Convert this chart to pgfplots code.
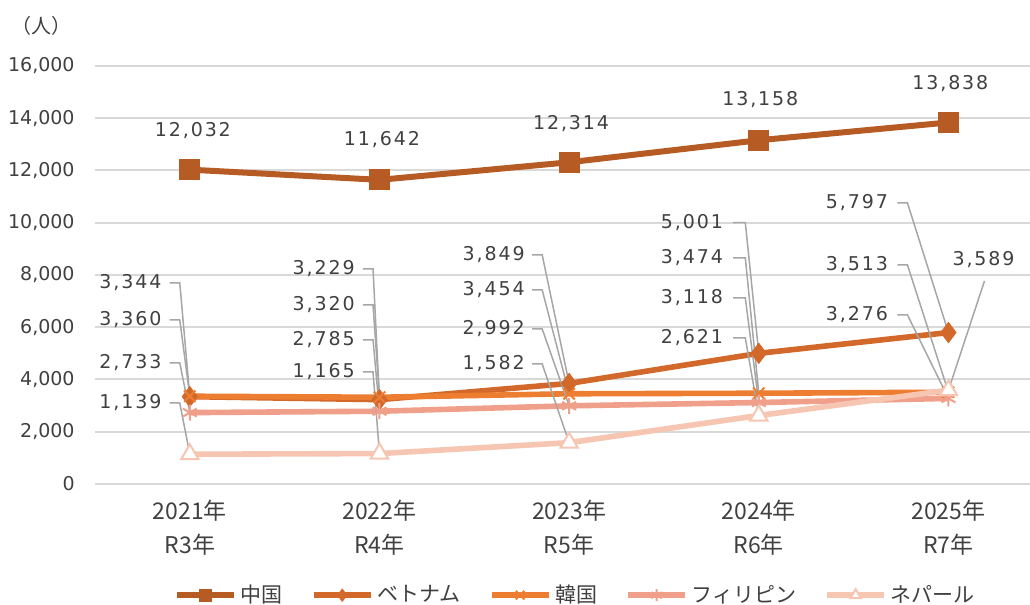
\documentclass[border=0pt]{standalone}
\usepackage{fontspec}
\setmainfont{Noto Sans CJK JP}
\newfontfamily\numfont{DejaVu Sans}
\newfontfamily\lblfont[LetterSpace=10]{DejaVu Sans}
\usepackage{pgfplots}
\pgfplotsset{compat=1.18}
\definecolor{cCN}{HTML}{B65B23}
\definecolor{cVN}{HTML}{D2692B}
\definecolor{cKR}{HTML}{ED7D31}
\definecolor{cPH}{HTML}{F0A08A}
\definecolor{cNP}{HTML}{F6C6B2}
\definecolor{gridc}{HTML}{D9D9D9}
\definecolor{txt}{HTML}{404040}
\definecolor{leadc}{HTML}{A6A6A6}
\begin{document}
\begin{tikzpicture}
\path[use as bounding box] (0,0) rectangle (515pt,302.5pt);
\begin{axis}[
  at={(47.5pt,60.5pt)}, anchor=south west,
  scale only axis, width=467.5pt, height=209pt,
  xmin=-0.5, xmax=4.43, ymin=0, ymax=16000,
  ytick={0,2000,...,16000},
  scaled y ticks=false,
  xtick={0,1,2,3,4},
  xticklabels={{2021年\\R3年},{2022年\\R4年},{2023年\\R5年},{2024年\\R6年},{2025年\\R7年}},
  axis line style={draw=none},
  major tick length=0pt,
  ymajorgrids, grid style={gridc, line width=1pt},
  /pgf/number format/assume math mode=true,
  /pgf/number format/1000 sep={,},
  yticklabel style={font=\numfont\fontsize{9.5}{11}\selectfont, text=txt, anchor=east, inner sep=0pt, xshift=-10pt},
  xticklabel style={font=\fontsize{11.5}{17}\selectfont, text=txt, align=center, anchor=north, inner sep=0pt, yshift=-8pt},
  clip=false,
  legend columns=5,
  legend style={at={(0.515,-0.266)}, anchor=center, draw=none, fill=none,
    font=\fontsize{10.5}{12}\selectfont, text=txt,
    /tikz/every even column/.append style={column sep=12pt}},
  legend cell align=left,
  legend image code/.code={\draw[mark repeat=2,mark phase=2] plot coordinates {(0cm,0cm) (0.5cm,0cm) (1cm,0cm)};},
]
\addplot[cCN, line width=3pt, mark=square*, mark size=5pt, mark options={fill=cCN, draw=cCN, line width=0.5pt}, legend image post style={mark size=3pt}]
  coordinates {(0,12032) (1,11642) (2,12314) (3,13158) (4,13838)};
\addlegendentry{中国}
\addplot[cVN, line width=2.8pt, mark=diamond*, mark size=5pt, mark options={fill=cVN, draw=cVN, line width=0.5pt}, legend image post style={mark size=3pt}]
  coordinates {(0,3344) (1,3229) (2,3849) (3,5001) (4,5797)};
\addlegendentry{ベトナム}
\addplot[cKR, line width=2.8pt, mark=x, mark size=4pt, mark options={draw=cKR, line width=1pt}, legend image post style={mark size=3pt}]
  coordinates {(0,3360) (1,3320) (2,3454) (3,3474) (4,3513)};
\addlegendentry{韓国}
\addplot[cPH, line width=2.8pt, mark=asterisk, mark size=4pt, mark options={draw=cPH, line width=1pt}, legend image post style={mark size=3pt}]
  coordinates {(0,2733) (1,2785) (2,2992) (3,3118) (4,3276)};
\addlegendentry{フィリピン}
\addplot[cNP, line width=2.8pt, mark=triangle*, mark size=5pt, mark options={fill=white, draw=cNP, line width=1pt}, legend image post style={mark size=3pt}]
  coordinates {(0,1139) (1,1165) (2,1582) (3,2621) (4,3589)};
\addlegendentry{ネパール}

% leader lines
\addplot[leadc, line width=0.75pt, forget plot] coordinates {(-0.106,7694) (-0.053,7694) (0,3344)};
\addplot[leadc, line width=0.75pt, forget plot] coordinates {(-0.106,6278) (-0.053,6278) (0,3360)};
\addplot[leadc, line width=0.75pt, forget plot] coordinates {(-0.106,4632) (-0.053,4632) (0,2733)};
\addplot[leadc, line width=0.75pt, forget plot] coordinates {(-0.106,3101) (-0.053,3101) (0,1139)};
\addplot[leadc, line width=0.75pt, forget plot] coordinates {(0.913,8230) (0.966,8230) (1,3229)};
\addplot[leadc, line width=0.75pt, forget plot] coordinates {(0.913,6852) (0.966,6852) (1,3320)};
\addplot[leadc, line width=0.75pt, forget plot] coordinates {(0.913,5512) (0.966,5512) (1,2785)};
\addplot[leadc, line width=0.75pt, forget plot] coordinates {(0.913,4287) (0.966,4287) (1,1165)};
\addplot[leadc, line width=0.75pt, forget plot] coordinates {(1.805,8766) (1.858,8766) (2,3849)};
\addplot[leadc, line width=0.75pt, forget plot] coordinates {(1.805,7426) (1.858,7426) (2,3454)};
\addplot[leadc, line width=0.75pt, forget plot] coordinates {(1.805,5933) (1.858,5933) (2,2992)};
\addplot[leadc, line width=0.75pt, forget plot] coordinates {(1.805,4594) (1.858,4594) (2,1582)};
\addplot[leadc, line width=0.75pt, forget plot] coordinates {(2.865,10000) (2.929,10000) (3,5001)};
\addplot[leadc, line width=0.75pt, forget plot] coordinates {(2.865,8651) (2.929,8651) (3,3474)};
\addplot[leadc, line width=0.75pt, forget plot] coordinates {(2.865,7120) (2.929,7120) (3,3118)};
\addplot[leadc, line width=0.75pt, forget plot] coordinates {(2.865,5589) (2.929,5589) (3,2621)};
\addplot[leadc, line width=0.75pt, forget plot] coordinates {(3.731,10756) (3.784,10756) (4,5797)};
\addplot[leadc, line width=0.75pt, forget plot] coordinates {(3.731,8383) (3.784,8383) (4,3513)};
\addplot[leadc, line width=0.75pt, forget plot] coordinates {(3.731,6469) (3.784,6469) (4,3276)};
\addplot[leadc, line width=0.75pt, forget plot] coordinates {(4.19,7771) (4,3589)};

% data labels
\tikzset{dl/.style={anchor=east, inner sep=0pt, text=txt, font=\lblfont\fontsize{9.5}{11}\selectfont}}
\node[dl] at (axis cs:-0.148,7694) {3,344};
\node[dl] at (axis cs:-0.148,6278) {3,360};
\node[dl] at (axis cs:-0.148,4632) {2,733};
\node[dl] at (axis cs:-0.148,3101) {1,139};
\node[dl] at (axis cs:0.871,8230) {3,229};
\node[dl] at (axis cs:0.871,6852) {3,320};
\node[dl] at (axis cs:0.871,5512) {2,785};
\node[dl] at (axis cs:0.871,4287) {1,165};
\node[dl] at (axis cs:1.768,8766) {3,849};
\node[dl] at (axis cs:1.768,7426) {3,454};
\node[dl] at (axis cs:1.768,5933) {2,992};
\node[dl] at (axis cs:1.768,4594) {1,582};
\node[dl] at (axis cs:2.813,10000) {5,001};
\node[dl] at (axis cs:2.813,8651) {3,474};
\node[dl] at (axis cs:2.813,7120) {3,118};
\node[dl] at (axis cs:2.813,5589) {2,621};
\node[dl] at (axis cs:3.683,10756) {5,797};
\node[dl] at (axis cs:3.683,8383) {3,513};
\node[dl] at (axis cs:3.683,6469) {3,276};
\node[dl, anchor=center] at (axis cs:4.185,8574) {3,589};
\node[dl, anchor=center] at (axis cs:0.016,13512) {12,032};
\node[dl, anchor=center] at (axis cs:1.013,13168) {11,642};
\node[dl, anchor=center] at (axis cs:2.01,13780) {12,314};
\node[dl, anchor=center] at (axis cs:3.008,14699) {13,158};
\node[dl, anchor=center] at (axis cs:4.01,15311) {13,838};
\node[text=txt, font=\fontsize{10}{11}\selectfont, inner sep=0pt] at (rel axis cs:-0.057,1.095) {（人）};
\end{axis}
\end{tikzpicture}
\end{document}
